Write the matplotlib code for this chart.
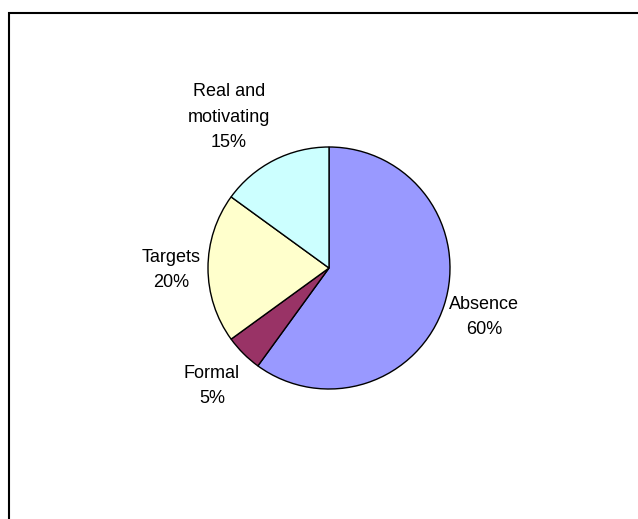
import matplotlib
matplotlib.use("Agg")
import matplotlib.pyplot as plt
from matplotlib.patches import Rectangle

categories = ["Absence", "Formal", "Targets", "Real and\nmotivating"]
values = [60, 5, 20, 15]
colors = ["#9999FF", "#993366", "#FFFFCC", "#CCFFFF"]
label_pos = [(484, 317), (212, 386), (171, 270), (229, 117)]

W, H = 638, 519
fig = plt.figure(figsize=(W / 100, H / 100), dpi=100)
ax = fig.add_axes([0, 0, 1, 1])
ax.set_xlim(0, W)
ax.set_ylim(0, H)
ax.set_aspect("equal")
ax.axis("off")

# outer chart frame
ax.add_patch(Rectangle((9, -10), W + 20, H - 12.5 + 10, fill=False,
                       edgecolor="black", linewidth=1.5))

cx, cy, r = 329, H - 268, 121
wedges, _ = ax.pie(values, colors=colors, startangle=90, counterclock=False,
                   center=(cx, cy), radius=r,
                   wedgeprops=dict(edgecolor="black", linewidth=1.0))
ax.set_xlim(0, W)
ax.set_ylim(0, H)
ax.axis("off")

for cat, v, (px, py) in zip(categories, values, label_pos):
    ax.text(px, H - py, f"{cat}\n{v}%", ha="center", va="center",
            fontsize=13, family="Liberation Sans", linespacing=1.62)

fig.savefig("out.png", dpi=100)
